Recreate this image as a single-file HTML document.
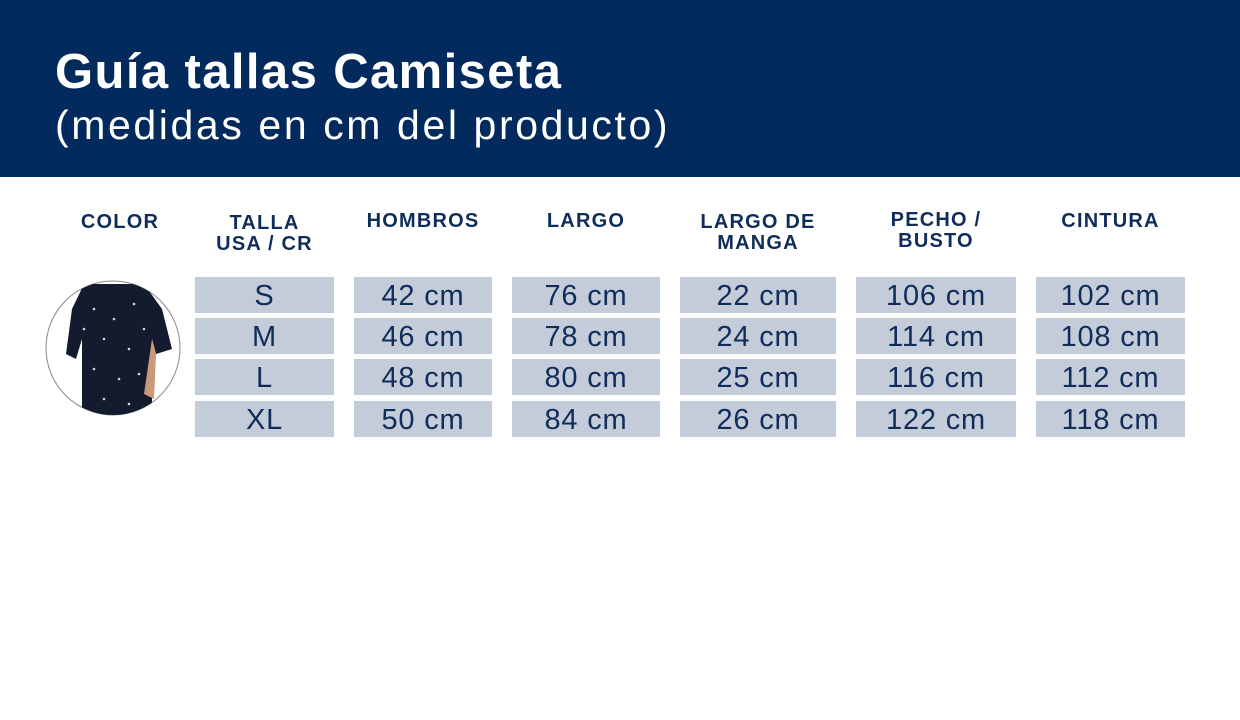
<!DOCTYPE html>
<html><head><meta charset="utf-8"><style>
body{margin:0;width:1240px;height:720px;background:#fff;position:relative;overflow:hidden;font-family:"Liberation Sans",sans-serif;color:#0f2d5a}
.hd{position:absolute;left:0;top:0;width:1240px;height:177px;background:#022a5c}
.t1{position:absolute;left:55px;top:44px;font-size:49px;font-weight:bold;color:#fff;letter-spacing:1.4px}
.t2{position:absolute;left:55px;top:102px;font-size:41px;color:#fff;letter-spacing:2.6px}
.h{position:absolute;font-weight:bold;font-size:20px;line-height:21px;text-align:center;letter-spacing:1.2px}
.c{position:absolute;height:36px;background:#c4ccd9;font-size:29px;line-height:38px;text-align:center;letter-spacing:0.8px}
</style></head><body>
<div class="hd"></div>
<div class="t1">Guía tallas Camiseta</div>
<div class="t2">(medidas en cm del producto)</div>
<div class="h" style="left:60px;width:120px;top:212px">COLOR</div>
<div class="h" style="left:195px;width:139px;top:213px">TALLA<br>USA / CR</div>
<div class="h" style="left:354px;width:138px;top:211px">HOMBROS</div>
<div class="h" style="left:512px;width:148px;top:211px">LARGO</div>
<div class="h" style="left:680px;width:156px;top:212px">LARGO DE<br>MANGA</div>
<div class="h" style="left:856px;width:160px;top:210px">PECHO /<br>BUSTO</div>
<div class="h" style="left:1036px;width:149px;top:211px">CINTURA</div>
<svg style="position:absolute;left:44px;top:279px" width="140" height="140">
<clipPath id="cp"><circle cx="69" cy="69" r="67"/></clipPath>
<circle cx="69" cy="69" r="67" fill="#fff" stroke="#888" stroke-width="1"/>
<g clip-path="url(#cp)">
<path d="M40 5 L100 5 L118 30 L128 70 L112 75 L108 60 L108 140 L38 140 L38 60 L32 80 L22 75 L28 30 Z" fill="#141b2e"/>
<path d="M108 60 L112 75 L110 120 L100 115 Z" fill="#c89a7a"/>
<g fill="#cfd6e2"><circle cx="50" cy="30" r="1.3"/><circle cx="70" cy="40" r="1.3"/><circle cx="90" cy="25" r="1.3"/><circle cx="60" cy="60" r="1.3"/><circle cx="85" cy="70" r="1.3"/><circle cx="50" cy="90" r="1.3"/><circle cx="75" cy="100" r="1.3"/><circle cx="95" cy="95" r="1.3"/><circle cx="60" cy="120" r="1.3"/><circle cx="85" cy="125" r="1.3"/><circle cx="40" cy="50" r="1.3"/><circle cx="100" cy="50" r="1.3"/></g>
</g></svg>
<div id="t"></div>
<script>
var cols=[[195,139],[354,138],[512,148],[680,156],[856,160],[1036,149]];
var rows=[277,318,359,401];
var d=[["S","42 cm","76 cm","22 cm","106 cm","102 cm"],["M","46 cm","78 cm","24 cm","114 cm","108 cm"],["L","48 cm","80 cm","25 cm","116 cm","112 cm"],["XL","50 cm","84 cm","26 cm","122 cm","118 cm"]];
var h="";for(var r=0;r<4;r++)for(var c=0;c<6;c++)h+='<div class="c" style="left:'+cols[c][0]+'px;width:'+cols[c][1]+'px;top:'+rows[r]+'px">'+d[r][c]+'</div>';
document.getElementById("t").innerHTML=h;
</script>
</body></html>
